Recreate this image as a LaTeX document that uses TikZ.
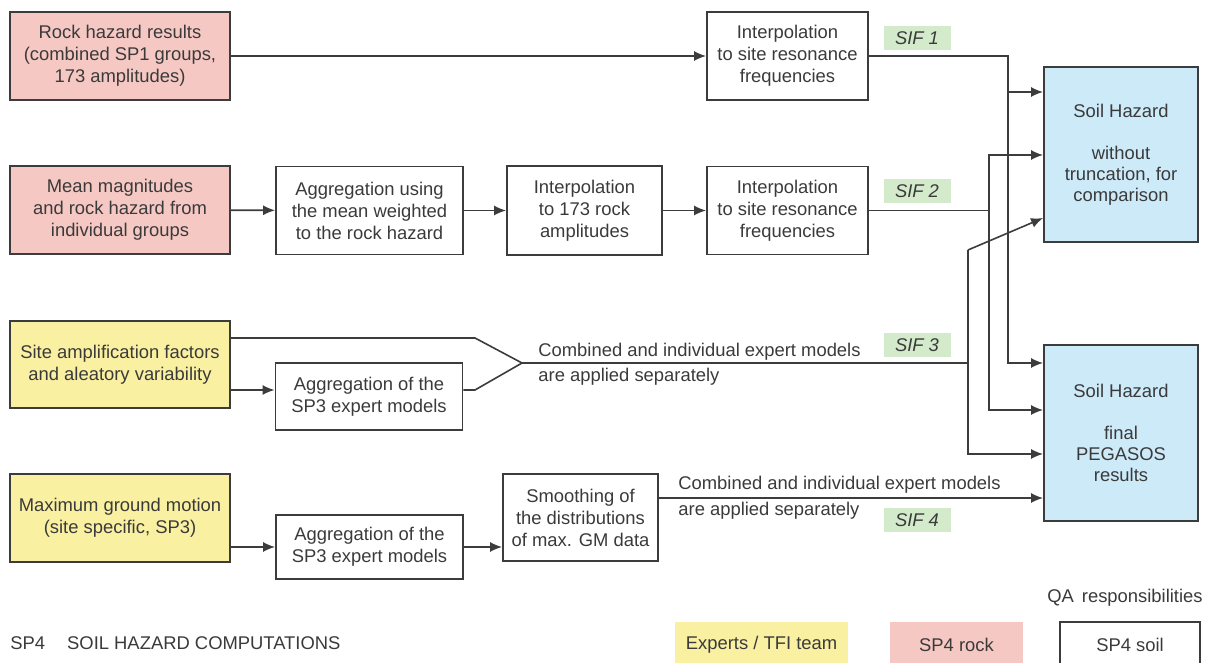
\documentclass[tikz,border=0pt]{standalone}
\usepackage{fontspec}
\setmainfont{Liberation Sans}
\usetikzlibrary{arrows,arrows.meta}

\definecolor{rockpink}{HTML}{F6C8C3}
\definecolor{expyellow}{HTML}{FAF0A2}
\definecolor{soilblue}{HTML}{CDEAF9}
\definecolor{sifgreen}{HTML}{D3EACB}
\definecolor{linegray}{HTML}{3C3C3C}
\definecolor{txtgray}{HTML}{3A3A3A}

\newcommand{\lblfont}{\fontsize{9.2}{11}\selectfont}

\tikzset{
  box/.style={draw=linegray,line width=0.9pt,text=txtgray,align=center,inner sep=0pt,font=\lblfont},
  rockbox/.style={box,fill=rockpink},
  expbox/.style={box,fill=expyellow},
  soilbox/.style={box,fill=soilblue},
  sif/.style={fill=sifgreen,text=txtgray,inner sep=0pt,minimum width=33.5pt,minimum height=12pt,font=\lblfont\itshape},
  note/.style={text=txtgray,inner sep=0pt,anchor=west,font=\lblfont},
  conn/.style={draw=linegray,line width=0.8pt},
  arr/.style={conn,-{Latex[length=6pt,width=5pt]}}
}

\begin{document}
\begin{tikzpicture}[x=0.5pt,y=-0.5pt]
\useasboundingbox (0,0) rectangle (1207,663);

\node[rockbox,minimum width=110pt,minimum height=44pt] (rock) at (120,56) {Rock hazard results\\(combined SP1 groups,\\173 amplitudes)};
\node[rockbox,minimum width=110pt,minimum height=44pt] (mean) at (120,210) {Mean magnitudes\\and rock hazard from\\individual groups};
\node[expbox,minimum width=110pt,minimum height=43.5pt] (siteamp) at (120,364.5) {Site amplification factors\\and aleatory variability};
\node[expbox,minimum width=110pt,minimum height=44pt] (maxgm) at (120,518) {Maximum ground motion\\(site specific, SP3)};

\node[box,minimum width=93.5pt,minimum height=44pt] (aggmean) at (369.5,210.5) {Aggregation using\\the mean weighted\\to the rock hazard};
\node[box,minimum width=77.5pt,minimum height=44.5pt] (interpr) at (584.5,210.5) {Interpolation\\to 173 rock\\amplitudes};
\node[box,minimum width=80.5pt,minimum height=44pt] (interpa) at (787.5,56) {Interpolation\\to site resonance\\frequencies};
\node[box,minimum width=80.5pt,minimum height=44pt] (interpb) at (787.5,210.5) {Interpolation\\to site resonance\\frequencies};
\node[box,minimum width=93.5pt,minimum height=33.5pt] (aggsa) at (369,396.5) {Aggregation of the\\SP3 expert models};
\node[box,minimum width=93.5pt,minimum height=32pt] (aggsb) at (369.5,547) {Aggregation of the\\SP3 expert models};
\node[box,minimum width=77.5pt,minimum height=43.5pt] (smooth) at (580.5,517.5) {Smoothing of\\the distributions\\of max. GM data};

\node[soilbox,minimum width=77pt,minimum height=87.5pt,font=\fontsize{9.2}{10.5}\selectfont] (soila) at (1121,154.5) {Soil Hazard\\[10.5pt]without\\truncation, for\\comparison};
\node[soilbox,minimum width=77pt,minimum height=88pt,font=\fontsize{9.2}{10.5}\selectfont] (soilb) at (1121,433) {Soil Hazard\\[10.5pt]final\\PEGASOS\\results};

\node[sif] (sif1) at (917,38) {SIF 1};
\node[sif] (sif2) at (917,191) {SIF 2};
\node[sif] (sif3) at (917,345) {SIF 3};
\node[sif] (sif4) at (917,520) {SIF 4};

\coordinate (j1a) at (1008,92);
\coordinate (j1b) at (1008,363);
\coordinate (j2a) at (989,155);
\coordinate (j2b) at (989,410);
\coordinate (m1) at (475,338);
\coordinate (m2) at (475,390);
\coordinate (mtip) at (522,363);
\coordinate (j3) at (968,363);
\coordinate (j3a) at (968,250);
\coordinate (j3b) at (968,454);
\coordinate (j4) at (700,498);

\draw[arr] (rock) -- (interpa);
\draw[arr] (interpa.east) -| (j1b) -- (j1b -| soilb.west);
\draw[arr] (j1a) -- (j1a -| soila.west);

\draw[arr] (mean) -- (aggmean);
\draw[arr] (aggmean) -- (interpr);
\draw[arr] (interpr) -- (interpb);
\draw[arr] (interpb.east) -| (j2a) -- (j2a -| soila.west);
\draw[arr] (j2a) -- (j2b) -- (j2b -| soilb.west);

\draw[conn] (siteamp.east |- m1) -- (m1) -- (mtip) -- (m2) -- (aggsa.east |- m2);
\draw[arr] (siteamp.east |- m2) -- (aggsa.west |- m2);
\draw[conn] (mtip) -- (j3);
\draw[arr] (j3a) -- (soila.west |- 0,218);
\draw[arr] (j3a) -- (j3b) -- (j3b -| soilb.west);

\draw[arr] (maxgm.east |- aggsb.west) -- (aggsb.west);
\draw[arr] (aggsb) -- (smooth.west |- aggsb.east);
\draw[arr] (smooth.east |- j4) -- (soilb.west |- j4);

\node[note] (c3a) at (538,352) {Combined and individual expert models};
\node[note] (c3b) at (538,377) {are applied separately};
\node[note] (c4a) at (678,485) {Combined and individual expert models};
\node[note] (c4b) at (678,511) {are applied separately};

\node[note] (title) at (10,643) {SP4\hspace{11pt}SOIL HAZARD COMPUTATIONS};
\node[note,anchor=east] (qa) at (1203,598) {QA\hspace{4pt}responsibilities};
\node[expbox,draw=none,minimum width=86.5pt,minimum height=23pt] (legexp) at (761.5,645) {Experts / TFI team};
\node[rockbox,draw=none,minimum width=66.5pt,minimum height=23pt] (legrock) at (956.5,645) {SP4 rock};
\node[box,minimum width=70pt,minimum height=23pt] (legsoil) at (1130,645) {SP4 soil};
\end{tikzpicture}
\end{document}
